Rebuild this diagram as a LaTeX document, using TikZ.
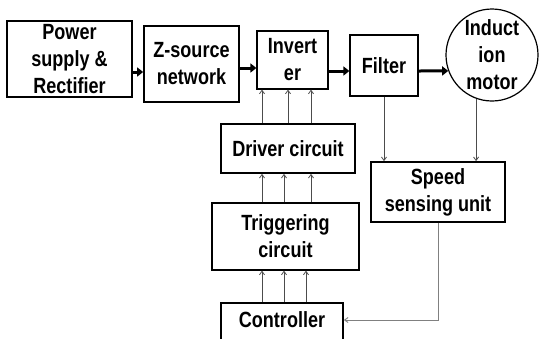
\documentclass[tikz,border=0pt]{standalone}
\usepackage{fontspec}
\setmainfont{Liberation Sans}[FakeStretch=0.82]
\usetikzlibrary{arrows.meta,calc}
\begin{document}
\begin{tikzpicture}[x=1pt,y=-1pt,
  box/.style={draw,rectangle,inner sep=0pt,align=center,font=\fontsize{22}{27}\selectfont\bfseries},
  heavy/.style={line width=1.7pt},
  light/.style={line width=1.2pt},
  thinarrow/.style={draw=black!70,line width=0.8pt,-{Straight Barb[length=3.5pt,width=5pt]}},
  feedback/.style={draw=black!50,line width=0.9pt,-{Straight Barb[length=3.5pt,width=5pt]}},
  bigarrow/.style={line width=3pt,-{Triangle[length=6pt,width=9pt]}}]
\useasboundingbox (0,0) rectangle (540,338);
\clip (0,0) rectangle (540,338);

\node[box,heavy,minimum width=125pt,minimum height=76pt] (ps) at (69.5,59) {Power\\supply \&\\Rectifier};
\node[box,heavy,minimum width=95pt,minimum height=76pt] (zs) at (191.5,64) {Z-source\\network};
\node[box,light,minimum width=71pt,minimum height=58pt] (inv) at (292.5,60) {Invert\\er};
\node[box,light,minimum width=68pt,minimum height=61pt] (fil) at (384,65.5) {Filter};
\node[box,light,circle,minimum size=92pt] (mot) at (492,55) {Induct\\ion\\motor};
\node[box,heavy,minimum width=134pt,minimum height=49pt] (drv) at (288,148.5) {Driver circuit};
\node[box,light,minimum width=147pt,minimum height=67pt] (trg) at (285.5,236.5) {Triggering\\circuit};
\node[box,heavy,minimum width=134pt,minimum height=60pt] (spd) at (438,192) {Speed\\sensing unit};
\node[box,heavy,anchor=north,minimum width=122pt,text height=25pt,text depth=25pt] (ctl) at (282,302) {Controller};

\draw[bigarrow] (ps.east |- 0,72) -- (zs.west |- 0,72);
\draw[bigarrow] (zs.east |- 0,68) -- (inv.west |- 0,68);
\draw[bigarrow] (inv.east |- 0,71) -- (fil.west |- 0,71);
\draw[bigarrow] (fil.east |- 0,71) -- (mot.200);

\foreach \x in {262,288,311}
  \draw[thinarrow] (drv.north -| \x,0) -- (inv.south -| \x,0);
\foreach \x in {262,284,311}
  \draw[thinarrow] (trg.north -| \x,0) -- (drv.south -| \x,0);
\foreach \x in {262,284,306}
  \draw[thinarrow] (ctl.north -| \x,0) -- (trg.south -| \x,0);

\draw[thinarrow] (fil.south) -- (fil.south |- spd.north);
\draw[thinarrow] (mot.-110) -- (mot.-110 |- spd.north);
\draw[feedback] (spd.south) |- ([yshift=-18pt]ctl.north east);
\end{tikzpicture}
\end{document}
